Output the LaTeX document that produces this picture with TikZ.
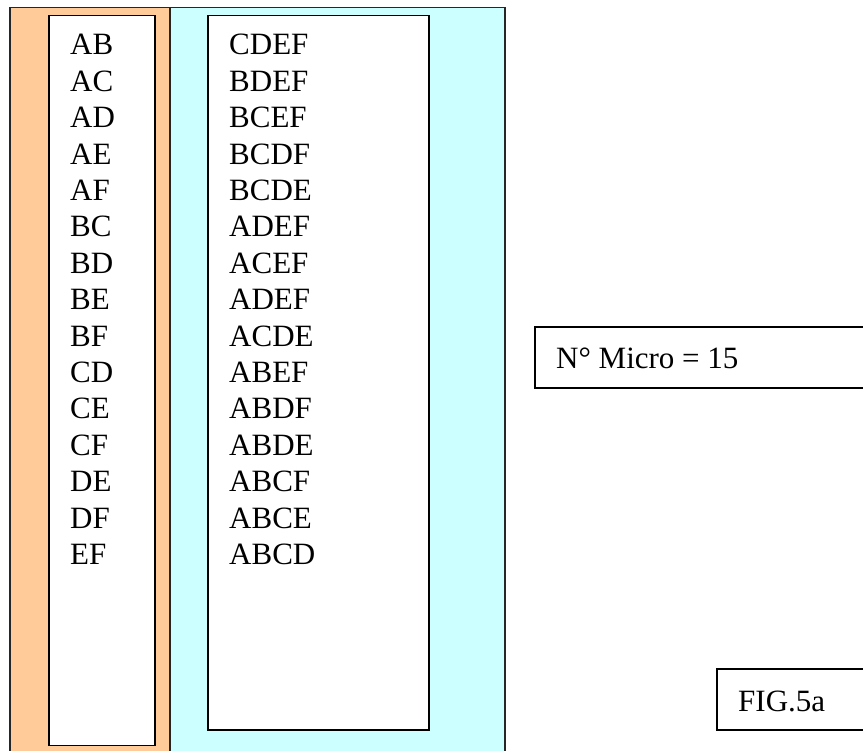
\documentclass[tikz,border=0pt]{standalone}
\usepackage{fontspec}
\setmainfont{Liberation Serif}
\definecolor{peach}{HTML}{FFCC99}
\definecolor{paleCyan}{HTML}{CCFFFF}
\begin{document}
\begin{tikzpicture}[x=1pt,y=-1pt,
  outerbox/.style={draw=black!85,line width=1.2pt},
  innerbox/.style={draw=black,fill=white,line width=1.6pt},
  lbl/.style={anchor=base west,inner sep=0pt,font=\fontsize{31}{37}\selectfont}]
\useasboundingbox (0,0) rectangle (863,751);
\clip (0,0) rectangle (863,751);
% outer panels
\fill[peach] (10,7.5) rectangle (170,760);
\fill[paleCyan] (170,7.5) rectangle (505,760);
\draw[outerbox] (10,760) -- (10,7.5) -- (505,7.5) -- (505,760);
\draw[outerbox] (170,7.5) -- (170,760);
% inner boxes
\draw[innerbox] (49,15.5) rectangle (155,745.5);
\draw[innerbox] (208,15.5) rectangle (429,730);
% left list
\foreach \t [count=\i from 0] in {AB,AC,AD,AE,AF,BC,BD,BE,BF,CD,CE,CF,DE,DF,EF}
  \node[lbl] (l\i) at (70,55+36.4*\i) {\t};
% right list
\foreach \t [count=\i from 0] in {CDEF,BDEF,BCEF,BCDF,BCDE,ADEF,ACEF,ADEF,ACDE,ABEF,ABDF,ABDE,ABCF,ABCE,ABCD}
  \node[lbl] (r\i) at (229,55+36.4*\i) {\t};
% side boxes
\draw[innerbox,line width=1.2pt] (535,327) rectangle (880,388);
\node[lbl] (micro) at (556,369) {N° Micro = 15};
\draw[innerbox,line width=1.2pt] (717,669) rectangle (880,730);
\node[lbl] (fig) at (738,711) {FIG.5a};
\end{tikzpicture}
\end{document}
